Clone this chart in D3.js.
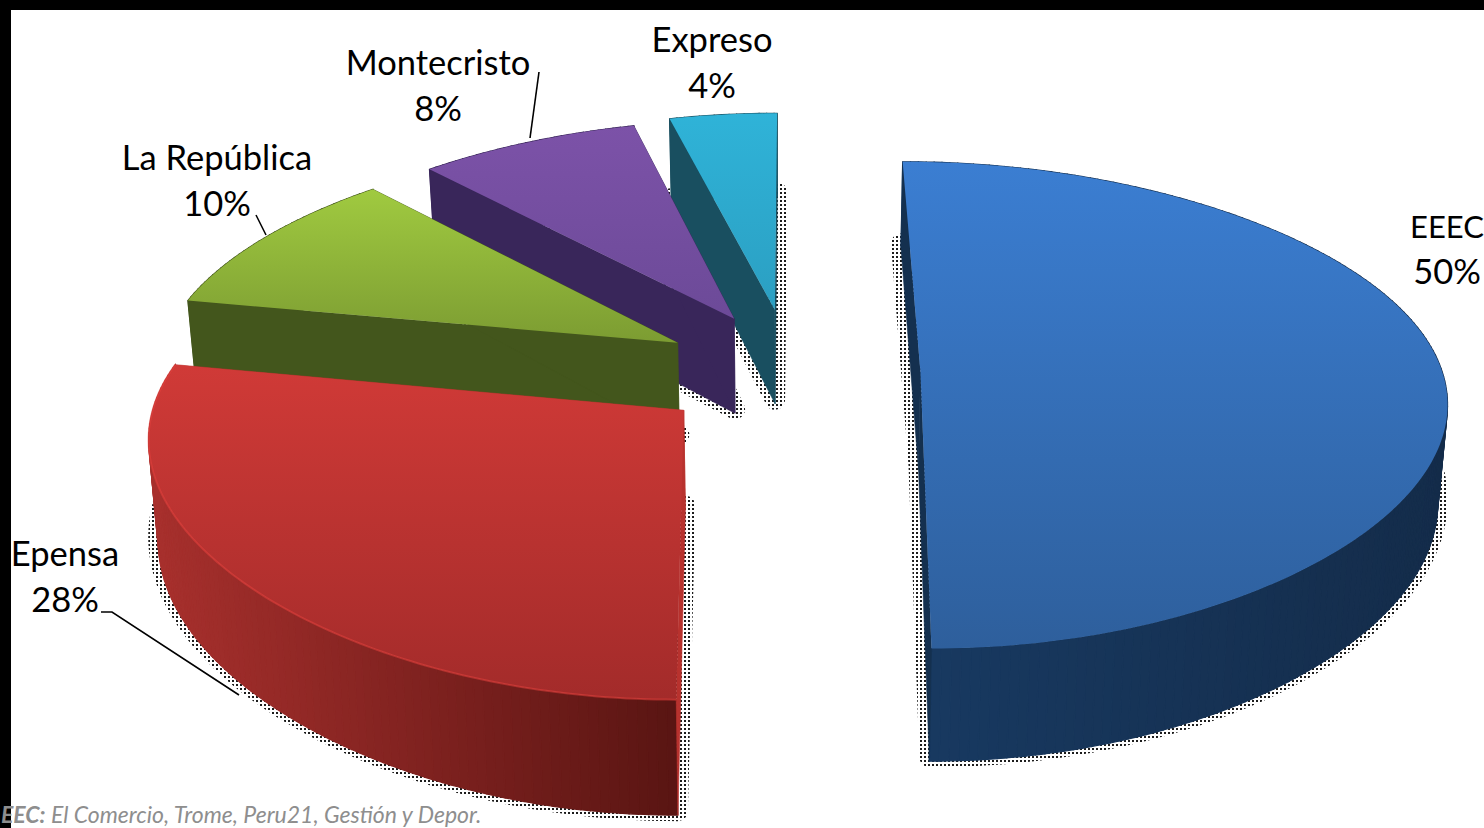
<!DOCTYPE html>
<html lang="es">
<head>
<meta charset="utf-8">
<title>Participación por grupo editorial</title>
<script src="https://cdn.jsdelivr.net/npm/d3@7/dist/d3.min.js"></script>
<style>
  html, body { margin: 0; padding: 0; background: #fff; }
  svg { display: block; }
  text { font-family: Lato, "Open Sans", sans-serif; }
</style>
</head>
<body>
<svg id="chart" width="1484" height="828"></svg>
<script>
// Share of each publishing group, in percent
const groups = ["EEEC", "Epensa", "La República", "Montecristo", "Expreso"];
const shares = [50, 28, 10, 8, 4];
const footnoteLead = "EEC:";
const footnoteRest = " El Comercio, Trome, Peru21, Gestión y Depor.";

// Palette per slice: top face (far, near), cut face, outer wall (left, right)
const topFar  = ["#3b7ed2", "#d03a37", "#a0ca40", "#7c52a8", "#2fb3d8"];
const topNear = ["#2e5f9c", "#a32b2a", "#7c9c32", "#6c4a98", "#2b9fc2"];
const cutFace = ["#14304f", "#b8322e", "#43561c", "#39265a", "#194f60"];
const wallLeft  = ["#183a62", "#a8302d", "#43561c", "#39265a", "#194f60"];
const wallRight = ["#142c4a", "#5a1513", "#43561c", "#39265a", "#194f60"];
const rimGlow = [0, 0.5, 0, 0, 0];

// Displacement of each slice from the pie centre, in radius units
const pull = [[0.25, 0.03], [-0.2, 0.186], [-0.2186, -0.095], [-0.11, -0.2], [-0.03, -0.24]];

// Label anchors and leader lines
const labelAt = [[1447, 238], [65, 566], [217, 170], [438, 75], [712, 52]];
const labelGap = 46;
const nameSize = [31, 34.5, 34.5, 34.5, 34.5];
const leaders = [
  null,
  [[101, 612], [112, 612], [239, 695]],
  [[256, 215], [266, 235]],
  [[539, 72], [530, 138]],
  null
];

const svg = d3.select("#chart");
const defs = svg.append("defs");

// Stippled drop shadow tile
const tile = defs.append("pattern").attr("id", "stipple")
  .attr("width", 4).attr("height", 4).attr("patternUnits", "userSpaceOnUse");
tile.append("rect").attr("width", 4).attr("height", 4).attr("fill", "#fff");
tile.append("rect").attr("width", 2).attr("height", 2).attr("fill", "#1c1c1c");

// Perspective view of the pie's plane
const cx = 790, cy = 365, tilt = 0.135, depth = 97, baseShrink = 0.985;
const narrow = 0.12, bow = 0.04;
const sx = d3.scaleLinear().domain([-1, 1]).range([-520, 520]);
const sy = d3.scaleLinear().domain([-1, 1]).range([-237, 237]);

function project(U, V, low) {
  const d = 1 - tilt * V;
  const dx = 1 - narrow * V + bow * V * V;
  let X = cx + sx(U) / dx, Y = cy + sy(V) / d;
  if (low) {
    X = cx + (X - cx) * baseShrink;
    Y += depth / d;
  }
  return [X, Y];
}

const arcs = d3.pie().sort(null).startAngle(0).endAngle(2 * Math.PI)(shares);
const line = d3.line();
const step = Math.PI / 180;

const rimOf = (a, i) => {
  const [ux, vy] = pull[i];
  const angles = d3.range(a.startAngle, a.endAngle, step).concat(a.endAngle);
  return angles.map(t => [ux + Math.sin(t), vy - Math.cos(t)]);
};
const outlineOf = (i, low) => [pull[i], ...rimOf(arcs[i], i)].map(([u, v]) => project(u, v, low));

// Far slices are painted first so that near ones overlap them
const paintOrder = [0, 4, 3, 2, 1];

// Shadows sit beneath every slice, around the foot of each one
const shadows = svg.append("g").attr("class", "shadows");
paintOrder.forEach(i => {
  shadows.append("path")
    .attr("d", line(outlineOf(i, true).map(([x, y]) => [x, y - 4])) + "Z")
    .attr("fill", "#fff").attr("stroke", "url(#stipple)")
    .attr("stroke-width", 20).attr("stroke-linejoin", "round");
});

paintOrder.forEach(i => {
  const rim = rimOf(arcs[i], i);
  const apex = pull[i];
  const g = svg.append("g").attr("class", "slice").datum(groups[i]);

  // Curved wall, banded along its length
  const xs = rim.map(([u, v]) => project(u, v)[0]);
  const shade = d3.scaleLinear().domain(d3.extent(xs)).range([0, 1]);
  const tint = d3.interpolateRgb(wallLeft[i], wallRight[i]);
  d3.pairs(rim).forEach(([p, q], k) => {
    const c = tint(shade(xs[k]));
    g.append("path")
      .attr("d", line([project(p[0], p[1]), project(q[0], q[1]),
                       project(q[0], q[1], true), project(p[0], p[1], true)]) + "Z")
      .attr("fill", c).attr("stroke", c).attr("stroke-width", 1.2);
  });

  // Straight cut faces
  [rim[0], rim[rim.length - 1]].forEach(([u, v]) => {
    g.append("path")
      .attr("d", line([project(apex[0], apex[1]), project(u, v),
                       project(u, v, true), project(apex[0], apex[1], true)]) + "Z")
      .attr("fill", cutFace[i]).attr("stroke", cutFace[i]).attr("stroke-width", 0.6);
  });

  // Top face with a vertical gradient
  const pts = outlineOf(i, false);
  const ext = d3.extent(pts, p => p[1]);
  const grad = defs.append("linearGradient").attr("id", "top" + i)
    .attr("gradientUnits", "userSpaceOnUse")
    .attr("x1", 0).attr("x2", 0).attr("y1", ext[0]).attr("y2", ext[1]);
  grad.append("stop").attr("offset", 0).attr("stop-color", topFar[i]);
  grad.append("stop").attr("offset", 1).attr("stop-color", topNear[i]);
  g.append("path").attr("d", line(pts) + "Z").attr("fill", `url(#top${i})`);

  // Soft bevel along the rim
  if (rimGlow[i] > 0) {
    g.append("path")
      .attr("d", line(rim.map(([u, v]) => project(u, v))))
      .attr("fill", "none").attr("stroke", d3.color(topFar[i]).brighter(0.3))
      .attr("stroke-opacity", rimGlow[i]).attr("stroke-width", 2);
  }
});

// Frame on the top and left edges
svg.append("rect").attr("width", 1484).attr("height", 10).attr("fill", "#000");
svg.append("rect").attr("width", 11).attr("height", 828).attr("fill", "#000");

// Leader lines
leaders.forEach(pts => {
  if (pts) svg.append("path").attr("d", line(pts)).attr("fill", "none")
    .attr("stroke", "#000").attr("stroke-width", 1.6);
});

// Labels: name on one line, share below
groups.forEach((name, i) => {
  const [x, y] = labelAt[i];
  const t = svg.append("text").attr("text-anchor", "middle")
    .attr("font-size", 34.5).attr("fill", "#000");
  t.append("tspan").attr("x", x).attr("y", y).attr("font-size", nameSize[i]).text(name);
  t.append("tspan").attr("x", x).attr("y", y + labelGap).text(shares[i] + "%");
});

// Footnote
const note = svg.append("text").attr("x", 1).attr("y", 823)
  .attr("font-size", 23).attr("font-style", "italic").attr("fill", "#8e8e8e");
note.append("tspan").attr("font-weight", 700).text(footnoteLead);
note.append("tspan").text(footnoteRest);
</script>
</body>
</html>
